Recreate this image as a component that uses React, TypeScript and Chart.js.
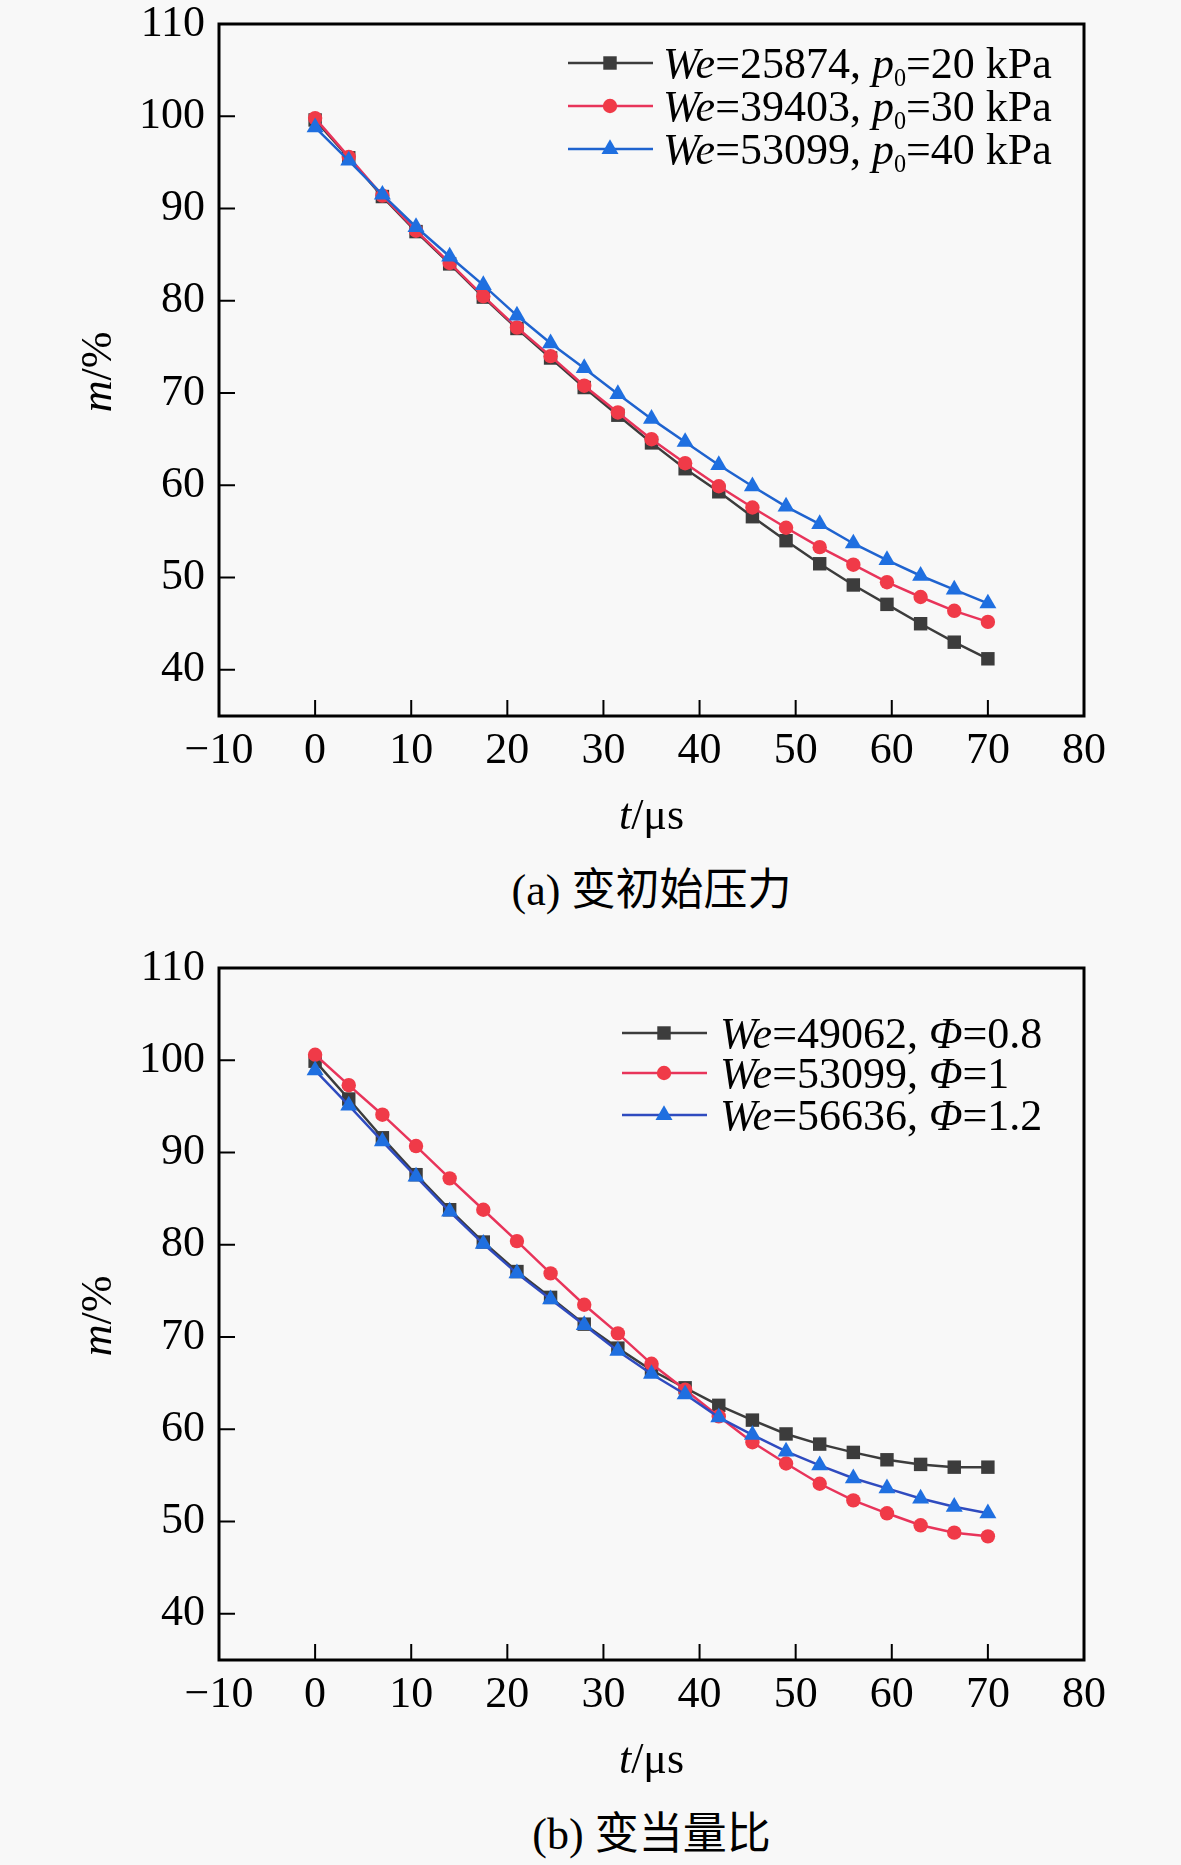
import React, { useEffect, useRef } from 'react';
import { Chart, registerables } from 'chart.js';

Chart.register(...registerables);

// ---------- data ----------
const T_US = [0, 3.5, 7, 10.5, 14, 17.5, 21, 24.5, 28, 31.5, 35, 38.5, 42, 45.5, 49, 52.5, 56, 59.5, 63, 66.5, 70];

// (a) varying initial pressure
const A_P20 = [99.6, 95.5, 91.3, 87.5, 84.0, 80.4, 77.0, 73.8, 70.6, 67.6, 64.6, 61.8, 59.3, 56.6, 54.0, 51.5, 49.2, 47.1, 45.0, 43.0, 41.2];
const A_P30 = [99.8, 95.6, 91.4, 87.6, 84.1, 80.5, 77.1, 74.0, 70.8, 67.9, 65.0, 62.4, 59.9, 57.6, 55.4, 53.3, 51.4, 49.5, 47.9, 46.4, 45.2];
const A_P40 = [98.8, 95.2, 91.5, 88.0, 84.8, 81.7, 78.4, 75.4, 72.7, 69.9, 67.2, 64.7, 62.2, 59.9, 57.7, 55.8, 53.7, 51.9, 50.2, 48.7, 47.2];

// (b) varying equivalence ratio
const B_PHI08 = [99.9, 95.8, 91.6, 87.6, 83.8, 80.3, 77.1, 74.3, 71.4, 68.8, 66.4, 64.5, 62.6, 61.0, 59.5, 58.4, 57.5, 56.7, 56.2, 55.9, 55.9];
const B_PHI10 = [100.6, 97.3, 94.1, 90.7, 87.2, 83.8, 80.4, 76.9, 73.5, 70.4, 67.1, 64.3, 61.4, 58.6, 56.3, 54.1, 52.3, 50.9, 49.6, 48.8, 48.4];
const B_PHI12 = [98.9, 95.1, 91.2, 87.4, 83.6, 80.1, 76.9, 74.1, 71.3, 68.5, 66.0, 63.8, 61.3, 59.4, 57.6, 56.1, 54.7, 53.6, 52.5, 51.6, 50.9];

const X_TICKS = [-10, 0, 10, 20, 30, 40, 50, 60, 70, 80];
const Y_TICKS = [40, 50, 60, 70, 80, 90, 100, 110];

type Seg = { t: string; i?: boolean; sub?: boolean };

const A_LEGEND: Seg[][] = [
  [{ t: 'We', i: true }, { t: '=25874, ' }, { t: 'p', i: true }, { t: '0', sub: true }, { t: '=20 kPa' }],
  [{ t: 'We', i: true }, { t: '=39403, ' }, { t: 'p', i: true }, { t: '0', sub: true }, { t: '=30 kPa' }],
  [{ t: 'We', i: true }, { t: '=53099, ' }, { t: 'p', i: true }, { t: '0', sub: true }, { t: '=40 kPa' }],
];
const B_LEGEND: Seg[][] = [
  [{ t: 'We', i: true }, { t: '=49062, ' }, { t: 'Φ', i: true }, { t: '=0.8' }],
  [{ t: 'We', i: true }, { t: '=53099, ' }, { t: 'Φ', i: true }, { t: '=1' }],
  [{ t: 'We', i: true }, { t: '=56636, ' }, { t: 'Φ', i: true }, { t: '=1.2' }],
];

const X_TITLE: Seg[] = [{ t: 't', i: true }, { t: '/μs' }];
const Y_TITLE: Seg[] = [{ t: 'm', i: true }, { t: '/%' }];

const CAPTION_A = '(a) 变初始压力';
const CAPTION_B = '(b) 变当量比';

// ---------- styling ----------
const SERIF = "'Liberation Serif', 'Times New Roman', serif";
const FS = 44;
const BG = '#f8f8f8';
const W = 1181;
const H = 860;

type SeriesStyle = { line: string; marker: string; point: 'rect' | 'circle' | 'triangle'; radius: number };
const BLACK: SeriesStyle = { line: '#3c3c3c', marker: '#3c3c3c', point: 'rect', radius: 9.5 };
const RED: SeriesStyle = { line: '#e8345a', marker: '#f03a48', point: 'circle', radius: 7.2 };
const BLUE_A: SeriesStyle = { line: '#1f63cf', marker: '#1f6fe0', point: 'triangle', radius: 9.8 };
const BLUE_B: SeriesStyle = { line: '#2f4bbf', marker: '#1f6fe0', point: 'triangle', radius: 9.8 };

function drawRich(ctx: CanvasRenderingContext2D, segs: Seg[], x: number, y: number, size: number, center: boolean) {
  const parts = segs.map((s) => {
    const fs = s.sub ? size * 0.55 : size;
    const font = `${s.i ? 'italic ' : ''}${fs}px ${SERIF}`;
    ctx.font = font;
    return { s, font, w: ctx.measureText(s.t).width };
  });
  const total = parts.reduce((a, p) => a + p.w, 0);
  let cx = center ? x - total / 2 : x;
  ctx.textAlign = 'left';
  ctx.textBaseline = 'alphabetic';
  for (const p of parts) {
    ctx.font = p.font;
    ctx.fillText(p.s.t, cx, y + (p.s.sub ? size * 0.18 : 0));
    cx += p.w;
  }
}

function drawMarker(ctx: CanvasRenderingContext2D, st: SeriesStyle, x: number, y: number) {
  ctx.fillStyle = st.marker;
  ctx.beginPath();
  const r = st.radius;
  if (st.point === 'rect') {
    const s = r * Math.SQRT1_2;
    ctx.rect(x - s, y - s, 2 * s, 2 * s);
  } else if (st.point === 'circle') {
    ctx.arc(x, y, r, 0, Math.PI * 2);
  } else {
    ctx.moveTo(x, y - r);
    ctx.lineTo(x + r * Math.sin((2 * Math.PI) / 3), y + r / 2);
    ctx.lineTo(x - r * Math.sin((2 * Math.PI) / 3), y + r / 2);
    ctx.closePath();
  }
  ctx.fill();
}

type LegendLayout = { x0: number; x1: number; xm: number; tx: number; rows: number[] };

function makeDecor(styles: SeriesStyle[], legend: Seg[][], lay: LegendLayout) {
  return {
    id: 'decor',
    afterDraw(chart: any) {
      const ctx: CanvasRenderingContext2D = chart.ctx;
      const { left, right, top, bottom } = chart.chartArea;
      const xs = chart.scales.x;
      const ys = chart.scales.y;
      ctx.save();
      ctx.strokeStyle = '#000';
      ctx.lineCap = 'butt';
      // inward ticks
      ctx.lineWidth = 2;
      ctx.beginPath();
      for (const v of Y_TICKS) {
        if (v <= ys.min || v >= ys.max) continue;
        const y = ys.getPixelForValue(v);
        ctx.moveTo(left, y);
        ctx.lineTo(left + 16, y);
      }
      for (const v of X_TICKS) {
        if (v <= xs.min || v >= xs.max) continue;
        const x = xs.getPixelForValue(v);
        ctx.moveTo(x, bottom);
        ctx.lineTo(x, bottom - 16);
      }
      ctx.stroke();
      // frame
      ctx.lineWidth = 3;
      ctx.strokeRect(left, top, right - left, bottom - top);
      // axis titles
      ctx.fillStyle = '#000';
      drawRich(ctx, X_TITLE, (left + right) / 2, bottom + 113, FS, true);
      ctx.save();
      ctx.translate(111, (top + bottom) / 2 + 2);
      ctx.rotate(-Math.PI / 2);
      drawRich(ctx, Y_TITLE, 0, 0, FS, true);
      ctx.restore();
      // legend
      legend.forEach((segs, i) => {
        const st = styles[i];
        const y = lay.rows[i];
        ctx.strokeStyle = st.line;
        ctx.lineWidth = 2.5;
        ctx.beginPath();
        ctx.moveTo(lay.x0, y);
        ctx.lineTo(lay.x1, y);
        ctx.stroke();
        drawMarker(ctx, st, lay.xm, y);
        ctx.fillStyle = '#000';
        drawRich(ctx, segs, lay.tx, y + 15, FS, false);
      });
      ctx.restore();
    },
  };
}

type PanelCfg = {
  top: number;
  series: number[][];
  labels: string[];
  styles: SeriesStyle[];
  legend: Seg[][];
  lay: LegendLayout;
};

function Panel({ cfg }: { cfg: PanelCfg }) {
  const ref = useRef<HTMLCanvasElement>(null);
  useEffect(() => {
    const tickFont = { family: SERIF, size: FS, lineHeight: 1 };
    const chart = new Chart(ref.current as HTMLCanvasElement, {
      type: 'line',
      data: {
        datasets: cfg.series.map((vals, i) => {
          const st = cfg.styles[i];
          return {
            label: cfg.labels[i],
            data: T_US.map((t, k) => ({ x: t, y: vals[k] })),
            borderColor: st.line,
            backgroundColor: st.marker,
            borderWidth: 2.5,
            pointStyle: st.point,
            pointRadius: st.radius,
            pointHoverRadius: st.radius,
            pointBackgroundColor: st.marker,
            pointBorderColor: st.marker,
            pointBorderWidth: 0,
            tension: 0,
            fill: false,
            order: cfg.series.length - i,
          };
        }),
      },
      options: {
        animation: false,
        responsive: false,
        devicePixelRatio: 1,
        events: [],
        layout: { padding: { top: 24, right: 97, left: 0, bottom: 0 } },
        plugins: { legend: { display: false }, tooltip: { enabled: false } },
        scales: {
          x: {
            type: 'linear',
            min: -10,
            max: 80,
            afterBuildTicks: (s: any) => {
              s.ticks = X_TICKS.map((v) => ({ value: v }));
            },
            afterFit: (s: any) => {
              s.height = H - 716;
              s.paddingLeft = 0;
              s.paddingRight = 0;
              s.paddingTop = 0;
              s.paddingBottom = 0;
            },
            grid: { display: false, drawTicks: false },
            border: { display: false },
            ticks: {
              font: tickFont,
              color: '#000',
              padding: 13,
              maxRotation: 0,
              autoSkip: false,
              callback: (v: any) => (Number(v) < 0 ? '\u2212' + Math.abs(Number(v)) : String(v)),
            },
          },
          y: {
            type: 'linear',
            min: 35,
            max: 110,
            afterBuildTicks: (s: any) => {
              s.ticks = Y_TICKS.map((v) => ({ value: v }));
            },
            afterFit: (s: any) => {
              s.width = 219;
              s.paddingLeft = 0;
              s.paddingRight = 0;
              s.paddingTop = 0;
              s.paddingBottom = 0;
            },
            grid: { display: false, drawTicks: false },
            border: { display: false },
            ticks: { font: tickFont, color: '#000', padding: 14, autoSkip: false },
          },
        },
      },
      plugins: [makeDecor(cfg.styles, cfg.legend, cfg.lay)],
    } as any);
    return () => chart.destroy();
  }, [cfg]);
  return (
    <canvas
      ref={ref}
      width={W}
      height={H}
      style={{ position: 'absolute', left: 0, top: cfg.top, width: W, height: H }}
    />
  );
}

const PANEL_A: PanelCfg = {
  top: 0,
  series: [A_P20, A_P30, A_P40],
  labels: ['We=25874, p0=20 kPa', 'We=39403, p0=30 kPa', 'We=53099, p0=40 kPa'],
  styles: [BLACK, RED, BLUE_A],
  legend: A_LEGEND,
  lay: { x0: 568, x1: 653, xm: 610, tx: 663, rows: [63, 106, 149] },
};

const PANEL_B: PanelCfg = {
  top: 944,
  series: [B_PHI08, B_PHI10, B_PHI12],
  labels: ['We=49062, Φ=0.8', 'We=53099, Φ=1', 'We=56636, Φ=1.2'],
  styles: [BLACK, RED, BLUE_B],
  legend: B_LEGEND,
  lay: { x0: 622, x1: 707, xm: 664, tx: 720, rows: [89, 129, 171] },
};

const captionStyle = (top: number): React.CSSProperties => ({
  position: 'absolute',
  left: 219,
  width: 865,
  top,
  textAlign: 'center',
  fontFamily: "'Liberation Serif', 'Noto Sans CJK SC', serif",
  fontSize: FS,
  lineHeight: `${FS}px`,
  color: '#000',
  whiteSpace: 'nowrap',
});

export default function App() {
  useEffect(() => {
    document.body.style.margin = '0';
    document.body.style.background = BG;
  }, []);
  return (
    <div style={{ position: 'relative', width: W, height: 1865, background: BG, overflow: 'hidden' }}>
      <Panel cfg={PANEL_A} />
      <Panel cfg={PANEL_B} />
      <div style={captionStyle(869)}>{CAPTION_A}</div>
      <div style={captionStyle(1813)}>{CAPTION_B}</div>
    </div>
  );
}
